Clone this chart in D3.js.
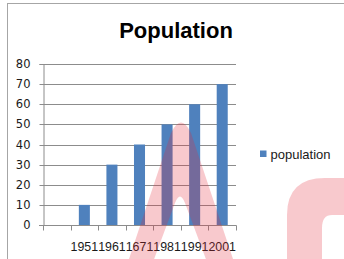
<!DOCTYPE html>
<html>
<head>
<meta charset="utf-8">
<script src="https://cdn.jsdelivr.net/npm/d3@7"></script>
<style>
  html, body { margin: 0; padding: 0; background: #fff; }
  svg { display: block; }
</style>
</head>
<body>
<svg id="chart" width="344" height="259"></svg>
<script>
// data
const categories = ["", "1951", "1961", "1671", "1981", "1991", "2001"];
const population = [null, 10, 30, 40, 50, 60, 70];
const yTicks = [0, 10, 20, 30, 40, 50, 60, 70, 80];
const seriesName = "population";
const chartTitle = "Population";

const width = 344, height = 259;
const margin = {top: 64, left: 43, right: 108, bottom: 34};

const svg = d3.select("#chart");

// outer chart frame
svg.append("rect")
  .attr("x", 7.5).attr("y", 3.5)
  .attr("width", 400).attr("height", 300)
  .attr("fill", "#fff")
  .attr("stroke", "#a6a6a6");

const x = d3.scaleBand()
  .domain(categories.map((c, i) => i))
  .range([margin.left, width - margin.right])
  .paddingInner(0.6)
  .paddingOuter(0.3);

const y = d3.scaleLinear()
  .domain([0, 80])
  .range([height - margin.bottom, margin.top]);

const x0 = margin.left, x1 = width - margin.right;

// gridlines
svg.append("g")
  .selectAll("line")
  .data(yTicks.filter(d => d > 0))
  .enter().append("line")
  .attr("x1", x0).attr("x2", x1)
  .attr("y1", d => Math.round(y(d)) + 0.5)
  .attr("y2", d => Math.round(y(d)) + 0.5)
  .attr("stroke", "#8c8c8c");

// bars
svg.append("g")
  .selectAll("rect")
  .data(population.map((v, i) => ({i: i, v: v})).filter(d => d.v != null))
  .enter().append("rect")
  .attr("x", d => x(d.i))
  .attr("y", d => y(d.v))
  .attr("width", x.bandwidth())
  .attr("height", d => y(0) - y(d.v))
  .attr("fill", "#4f81bd");

// y axis
const yAxis = svg.append("g")
  .attr("transform", "translate(" + (x0 + 0.5) + ",0)")
  .call(d3.axisLeft(y).tickValues(yTicks).tickSize(4).tickPadding(9));
yAxis.select(".domain").attr("stroke", "#8c8c8c");
yAxis.selectAll(".tick line").attr("stroke", "#8c8c8c");
yAxis.selectAll(".tick text")
  .attr("font-family", "DejaVu Sans")
  .attr("font-size", 11.5)
  .attr("fill", "#1a1a1a");
yAxis.selectAll(".tick").attr("transform", d => "translate(0," + (Math.round(y(d)) + 0.5) + ")");

// x axis line and category boundary ticks
const xb = Math.round(y(0)) + 0.5;
svg.append("line")
  .attr("x1", x0 - 4).attr("x2", x1 + 0.5)
  .attr("y1", xb).attr("y2", xb)
  .attr("stroke", "#8c8c8c");
const bounds = categories.map((c, i) => x(i) - x.step() * 0.3).concat([x1]);
svg.append("g")
  .selectAll("line")
  .data(bounds)
  .enter().append("line")
  .attr("x1", d => Math.round(d) + 0.5).attr("x2", d => Math.round(d) + 0.5)
  .attr("y1", xb).attr("y2", xb + 5)
  .attr("stroke", "#8c8c8c");

// category labels
svg.append("g")
  .selectAll("text")
  .data(categories.map((c, i) => ({c: c, i: i})))
  .enter().append("text")
  .attr("x", d => x(d.i) + x.bandwidth() / 2)
  .attr("y", 251)
  .attr("text-anchor", "middle")
  .attr("font-family", "Liberation Sans, Arial, sans-serif")
  .attr("font-size", 12.4)
  .attr("fill", "#1a1a1a")
  .text(d => d.c);

// title
svg.append("text")
  .attr("x", 176)
  .attr("y", 38)
  .attr("text-anchor", "middle")
  .attr("font-family", "Liberation Sans, Arial, sans-serif")
  .attr("font-weight", "bold")
  .attr("font-size", 22)
  .attr("fill", "#000")
  .text(chartTitle);

// legend
svg.append("rect")
  .attr("x", 260).attr("y", 150.5)
  .attr("width", 6.5).attr("height", 6.5)
  .attr("fill", "#4f81bd");
svg.append("text")
  .attr("x", 270.5)
  .attr("y", 158.5)
  .attr("font-family", "Liberation Sans, Arial, sans-serif")
  .attr("font-size", 13)
  .attr("fill", "#1a1a1a")
  .text(seriesName);

// watermark over the chart
const wm = svg.append("g")
  .attr("fill", "rgb(228,40,55)")
  .attr("fill-opacity", 0.25);
wm.append("path")
  .attr("d", "M128,262 L171,133 Q181,112 191,133 L234,262 L207,262 L185,203 Q180,190 175,203 L153,262 Z");
wm.append("path")
  .attr("d", "M287,262 L287,215 Q287,178 325,178 L350,178 L350,215 L332,215 Q322,215 322,228 L322,262 Z");
</script>
</body>
</html>
